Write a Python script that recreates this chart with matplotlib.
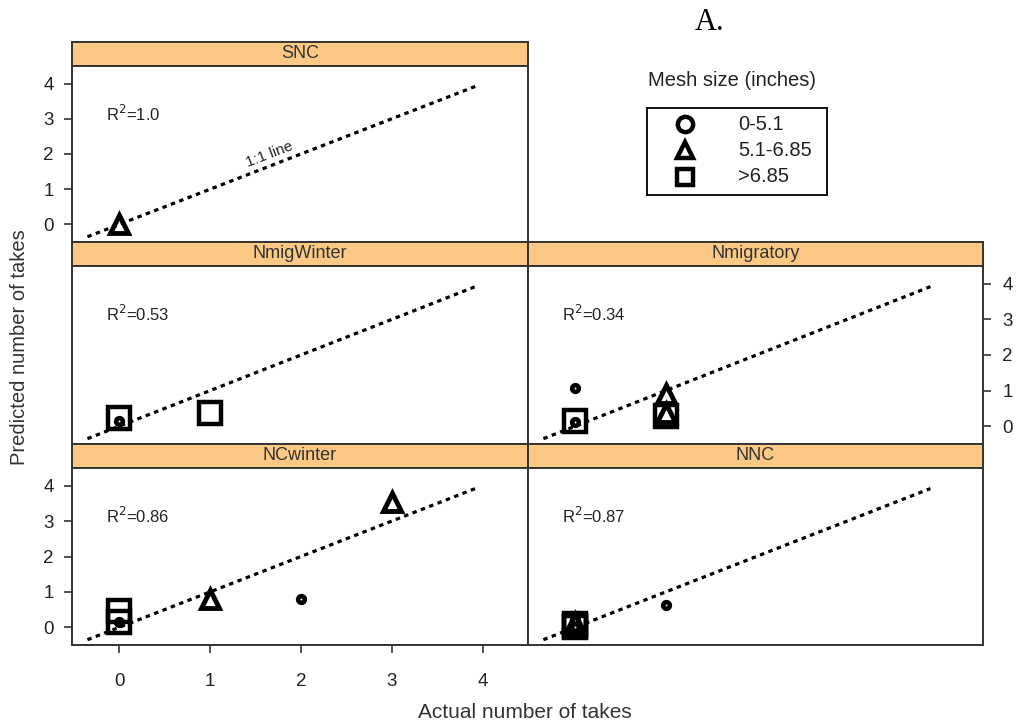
import matplotlib
matplotlib.use("Agg")
import matplotlib.pyplot as plt

plt.rcParams["font.family"] = ["Liberation Sans", "DejaVu Sans"]

# observed vs predicted takes per stratum, marker = mesh size class
panels = ["SNC", "NmigWinter", "Nmigratory", "NCwinter", "NNC"]
r_squared = ["1.0", "0.53", "0.34", "0.86", "0.87"]

snc_actual = [0]
snc_pred = [0.02]
snc_mesh = ["5.1-6.85"]

nmigwinter_actual = [0, 0, 1]
nmigwinter_pred = [0.22, 0.15, 0.37]
nmigwinter_mesh = [">6.85", "0-5.1", ">6.85"]

nmigratory_actual = [0, 0, 0, 1, 1, 1]
nmigratory_pred = [1.08, 0.15, 0.12, 0.9, 0.28, 0.38]
nmigratory_mesh = ["0-5.1", ">6.85", "0-5.1", "5.1-6.85", ">6.85", "5.1-6.85"]

ncwinter_actual = [0, 0, 0, 1, 2, 3]
ncwinter_pred = [0.45, 0.15, 0.15, 0.8, 0.8, 3.55]
ncwinter_mesh = [">6.85", ">6.85", "0-5.1", "5.1-6.85", "0-5.1", "5.1-6.85"]

nnc_actual = [0, 0, 0, 0, 0, 0, 1]
nnc_pred = [0.0, 0.05, 0.1, 0.12, 0.2, 0.02, 0.63]
nnc_mesh = [">6.85", ">6.85", ">6.85", "5.1-6.85", "0-5.1", "0-5.1", "0-5.1"]

mesh_classes = ["0-5.1", "5.1-6.85", ">6.85"]
ticks = [0, 1, 2, 3, 4]

panel_data = {
    "SNC": (snc_actual, snc_pred, snc_mesh),
    "NmigWinter": (nmigwinter_actual, nmigwinter_pred, nmigwinter_mesh),
    "Nmigratory": (nmigratory_actual, nmigratory_pred, nmigratory_mesh),
    "NCwinter": (ncwinter_actual, ncwinter_pred, ncwinter_mesh),
    "NNC": (nnc_actual, nnc_pred, nnc_mesh),
}

marker_style = {
    "0-5.1": dict(marker="o", ms=4.8, mew=3.3),
    "5.1-6.85": dict(marker="^", ms=13, mew=3.5),
    ">6.85": dict(marker="s", ms=16, mew=3.2),
}

W, H = 1017, 726
fig = plt.figure(figsize=(W / 100, H / 100), dpi=100)
frame_col = "#333333"
strip_col = "#fcc984"


def px_axes(x0, y0, x1, y1):
    return fig.add_axes([x0 / W, 1 - y1 / H, (x1 - x0) / W, (y1 - y0) / H])


cols = [(72, 528), (528, 983)]
rows = [(42, 66, 242), (242, 266, 444), (444, 468, 645)]
layout = {
    "SNC": (0, 0),
    "NmigWinter": (1, 0),
    "Nmigratory": (1, 1),
    "NCwinter": (2, 0),
    "NNC": (2, 1),
}

for name, r2 in zip(panels, r_squared):
    ri, ci = layout[name]
    x0, x1 = cols[ci]
    s_top, p_top, p_bot = rows[ri]

    strip = px_axes(x0, s_top, x1, p_top)
    strip.set_facecolor(strip_col)
    strip.set_xticks([])
    strip.set_yticks([])
    for sp in strip.spines.values():
        sp.set_color(frame_col)
        sp.set_linewidth(1.4)
    strip.text(0.5, 0.5, name, ha="center", va="center", fontsize=13,
               color="#333333", transform=strip.transAxes)

    ax = px_axes(x0, p_top, x1, p_bot)
    ax.set_xlim(-0.52, 4.5)
    ax.set_ylim(-0.5, 4.5)
    for sp in ax.spines.values():
        sp.set_color(frame_col)
        sp.set_linewidth(1.4)

    # 1:1 reference line
    ax.plot([-0.35, 3.92], [-0.35, 3.92], color="black", lw=2.3,
            dashes=(1.4, 1.4), zorder=1)
    if name == "SNC":
        ax.text(1.65, 1.98, "1:1 line", rotation=21, fontsize=11,
                ha="center", va="center", color="#222222")
    ax.text(-0.15, 3.15, "R$^2$=" + r2, fontsize=12, color="#222222",
            ha="left", va="center")

    xs, ys, mesh = panel_data[name]
    for xv, yv, m in zip(xs, ys, mesh):
        ax.plot([xv], [yv], ls="none", color="black", mfc="none",
                zorder=3, **marker_style[m])

    ax.tick_params(colors=frame_col, labelcolor="#222222", labelsize=13.5,
                   length=6, width=1.2)
    ax.set_yticks(ticks)
    ax.set_xticks(ticks)
    if ri == 1 and ci == 1:
        ax.yaxis.tick_right()
        ax.tick_params(axis="y", pad=8)
    elif ci == 0 and ri != 1:
        ax.tick_params(axis="y", pad=7)
    else:
        ax.set_yticks([])
    if ri == 2 and ci == 0:
        ax.tick_params(axis="x", pad=14)
    else:
        ax.set_xticks([])

fig.text(20 / W, 1 - 347 / H, "Predicted number of takes", rotation=90,
         ha="center", va="center", fontsize=14.5, color="#333333")
fig.text(525 / W, 1 - 712 / H, "Actual number of takes",
         ha="center", va="center", fontsize=15, color="#333333")
fig.text(710 / W, 1 - 22 / H, "A.", ha="center", va="center", fontsize=22,
         family=["Liberation Serif", "DejaVu Serif"])

# mesh size key, drawn in its own pixel-scaled box
fig.text(732 / W, 1 - 80 / H, "Mesh size (inches)", ha="center",
         va="center", fontsize=14.5, color="#222222")
key = px_axes(647, 108, 827, 195)
key.set_xlim(647, 827)
key.set_ylim(195, 108)
key.set_xticks([])
key.set_yticks([])
for sp in key.spines.values():
    sp.set_color("black")
    sp.set_linewidth(1.3)
key_rows = [124, 150, 177]
for m, ky in zip(mesh_classes, key_rows):
    key.plot([685], [ky], ls="none", color="black", mfc="none",
             marker=marker_style[m]["marker"], ms=11, mew=3.2)
    key.text(738, ky, m, ha="left", va="center", fontsize=14.5,
             color="#222222")

fig.savefig("out.png", dpi=100)
